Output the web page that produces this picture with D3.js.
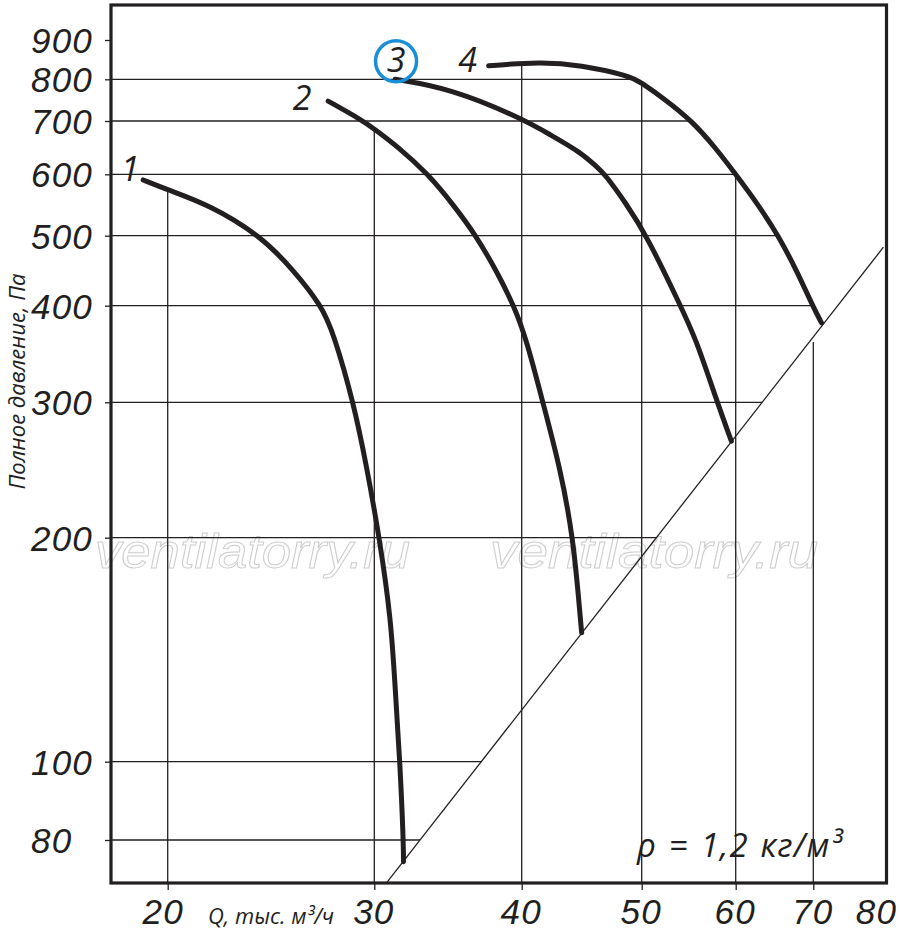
<!DOCTYPE html>
<html><head><meta charset="utf-8">
<script src="https://cdn.jsdelivr.net/npm/d3@7"></script>
<style>html,body{margin:0;padding:0;background:#fff}svg{display:block}</style>
</head><body><div id="chart"></div>
<script>
// ---- data ----
const xTicks = [20, 30, 40, 50, 60, 70, 80];          // Q, thousand m3/h
const yTicks = [80, 100, 200, 300, 400, 500, 600, 700, 800, 900]; // Pa
const curveNames = ["1", "2", "3", "4"];
const curve1Q = [19.06, 20, 21.7, 24.0, 25.6, 27.05, 27.7, 28.8, 29.56, 30.3, 31.0, 31.24, 31.54, 31.75, 31.76];
const curve1P = [590, 573, 548, 500, 448, 400, 368, 300, 247, 200, 155, 126, 100, 80, 75.2];
const curve2Q = [27.4, 29.37, 30, 31.33, 33.34, 35.0, 36.6, 38.1, 39.4, 40.37, 41.6, 42.95, 44.03, 44.62, 44.72];
const curve2P = [746, 700, 684, 652, 600, 548, 500, 446, 400, 361, 300, 247, 200, 155, 149];
const curve3Q = [31.24, 34.8, 40, 42.16, 44.6, 46.0, 46.7, 48.5, 50.5, 53.9, 55.6, 57.8, 59.5];
const curve3P = [800, 777, 706, 673, 640, 613, 600, 552, 500, 400, 361, 302, 267];
const curve4Q = [37.5, 41.4, 44.6, 48.9, 49.84, 52.5, 55.1, 57.6, 60, 62.75, 65.3, 67.7, 69.9, 71.2];
const curve4P = [833, 843, 835, 808, 794, 747, 700, 650, 600, 548, 500, 448, 400, 380];
const lineQ = [30.7, 80.9];   // system line P ~ Q^2
const lineP = [70.7, 482];
const highlightedCurve = "3";
const gridStopsAtLine = [70];
const xTitle = "Q, тыс. м³/ч";
const yTitle = "Полное давление, Па";
const densityNote = "ρ = 1,2 кг/м³";
const watermark = "ventilatorry.ru";

// ---- drawing ----
const W = 900, H = 945;
const ink = "#231f20";
const font = "'Open Sans', 'Noto Sans', sans-serif";
const tickFont = "'Liberation Sans', Arial, sans-serif";
const frame = {l: 111, t: 5, r: 886.5, b: 883};

const x = d3.scaleLog().domain(xTicks).range([167.7, 374.3, 521.7, 641.7, 735.7, 813.3, 878]);
const y = d3.scaleLog().domain(yTicks).range([840, 761.7, 537.7, 402.3, 305.7, 235.7, 174.3, 121, 79.3, 40]);

const curves = [[curve1Q, curve1P], [curve2Q, curve2P], [curve3Q, curve3P], [curve4Q, curve4P]]
  .map(([q, p], i) => ({name: curveNames[i], pts: q.map((v, j) => [x(v), y(p[j])])}));
const linePts = lineQ.map((v, j) => [x(v), y(lineP[j])]);

const svg = d3.select("#chart").append("svg").attr("width", W).attr("height", H)
  .style("background", "#fff");

// watermark
[[95, 315], [490, 328]].forEach(([wx, wl]) => {
  svg.append("text").text(watermark)
    .attr("x", wx).attr("y", 568)
    .attr("textLength", wl).attr("lengthAdjust", "spacingAndGlyphs")
    .style("font-family", "'Liberation Sans', Arial, sans-serif").style("font-style", "italic")
    .style("font-size", "49px").attr("fill", "none").attr("stroke", "#cdcdcd").attr("stroke-width", 1);
});

// helpers (pixel space)
function lineYAt(px) {
  const [a, b] = linePts; return a[1] + (b[1] - a[1]) * (px - a[0]) / (b[0] - a[0]);
}
function lineXAt(py) {
  const [a, b] = linePts; return a[0] + (b[0] - a[0]) * (py - a[1]) / (b[1] - a[1]);
}
function envelopeTop(px) {
  let best = Infinity;
  curves.forEach(c => {
    const p = c.pts;
    for (let i = 0; i < p.length - 1; i++) {
      const [x0, y0] = p[i], [x1, y1] = p[i + 1];
      if ((px - x0) * (px - x1) <= 0 && x0 !== x1) {
        const yy = y0 + (y1 - y0) * (px - x0) / (x1 - x0);
        best = Math.min(best, yy);
      }
    }
  });
  return best;
}
function outerCurveXAt(py) {
  const p = curves[3].pts;
  let peak = 0; p.forEach((d, i) => { if (d[1] < p[peak][1]) peak = i; });
  for (let i = peak; i < p.length - 1; i++) {
    const [x0, y0] = p[i], [x1, y1] = p[i + 1];
    if ((py - y0) * (py - y1) <= 0) return x0 + (x1 - x0) * (py - y0) / (y1 - y0);
  }
  return Infinity;
}

// grid
const grid = svg.append("g").attr("stroke", ink).attr("stroke-width", 1.3);
xTicks.filter(v => v < 80).forEach(v => {
  const px = x(v);
  const top = gridStopsAtLine.includes(v) ? lineYAt(px) + 5 : envelopeTop(px);
  grid.append("line").attr("x1", px).attr("x2", px).attr("y1", top).attr("y2", frame.b);
});
yTicks.filter(v => v < 900).forEach(v => {
  const py = y(v);
  const end = Math.min(outerCurveXAt(py), lineXAt(py));
  grid.append("line").attr("x1", frame.l).attr("x2", end).attr("y1", py).attr("y2", py);
});

// system line
svg.append("line").attr("x1", linePts[0][0]).attr("y1", linePts[0][1])
  .attr("x2", linePts[1][0]).attr("y2", linePts[1][1])
  .attr("stroke", ink).attr("stroke-width", 1.3);

// fan curves
const gen = d3.line().curve(d3.curveBasis);
svg.append("g").selectAll("path").data(curves).join("path")
  .attr("d", d => gen(d.pts)).attr("fill", "none").attr("stroke", ink)
  .attr("stroke-width", 5).attr("stroke-linecap", "round").attr("stroke-linejoin", "round");

// curve labels
const labelOffset = {"1": [-13, 1], "2": [-26, 9], "3": [1, -7], "4": [-21, 6]};
curves.forEach(c => {
  const [dx, dy] = labelOffset[c.name];
  const lx = c.pts[0][0] + dx, ly = c.pts[0][1] + dy;
  svg.append("text").text(c.name).attr("x", lx).attr("y", ly)
    .attr("text-anchor", "middle").attr("fill", ink)
    .style("font-family", font).style("font-style", "italic").style("font-size", "34px");
  if (c.name === highlightedCurve) {
    svg.append("circle").attr("cx", lx).attr("cy", ly - 11).attr("r", 20.5)
      .attr("fill", "none").attr("stroke", "#1a8fd8").attr("stroke-width", 3.5);
  }
});

// axes
const ax = svg.append("g").attr("transform", `translate(0,${frame.b})`)
  .call(d3.axisBottom(x).tickValues(xTicks).tickFormat(d3.format("d")).tickSize(7).tickSizeOuter(0));
const ay = svg.append("g").attr("transform", `translate(${frame.l},0)`)
  .call(d3.axisLeft(y).tickValues(yTicks).tickFormat(d3.format("d")).tickSize(6).tickSizeOuter(0));
[ax, ay].forEach(g => {
  g.select(".domain").remove();
  g.selectAll(".tick line").attr("stroke", ink).attr("stroke-width", 1.3);
  g.selectAll(".tick text").attr("fill", ink).attr("letter-spacing", 1.2)
    .style("font-family", tickFont).style("font-style", "italic").style("font-size", "35px");
});
ax.selectAll(".tick").filter(d => d === 80).select("line").remove();
ax.selectAll(".tick text").attr("y", 41).attr("dy", null)
  .attr("dx", d => d === 80 ? -2 : (d === 20 ? -5 : -1));
ay.selectAll(".tick text").attr("text-anchor", "start").attr("x", 31 - frame.l).attr("dy", "0.36em");

// frame
svg.append("rect").attr("x", frame.l).attr("y", frame.t)
  .attr("width", frame.r - frame.l).attr("height", frame.b - frame.t)
  .attr("fill", "none").attr("stroke", ink).attr("stroke-width", 3.2);

// titles
svg.append("text").text(xTitle).attr("x", 208).attr("y", 924).attr("fill", ink)
  .style("font-family", font).style("font-style", "italic").style("font-size", "22px");
svg.append("text").text(yTitle).attr("transform", "translate(24.5,381.5) rotate(-90)")
  .attr("text-anchor", "middle").attr("fill", ink)
  .style("font-family", font).style("font-style", "italic").style("font-size", "22px");
svg.append("text").text(densityNote).attr("x", 637).attr("y", 857).attr("fill", ink)
  .attr("letter-spacing", 1.2).attr("word-spacing", 2)
  .style("font-family", font).style("font-style", "italic").style("font-size", "33px");
</script></body></html>
